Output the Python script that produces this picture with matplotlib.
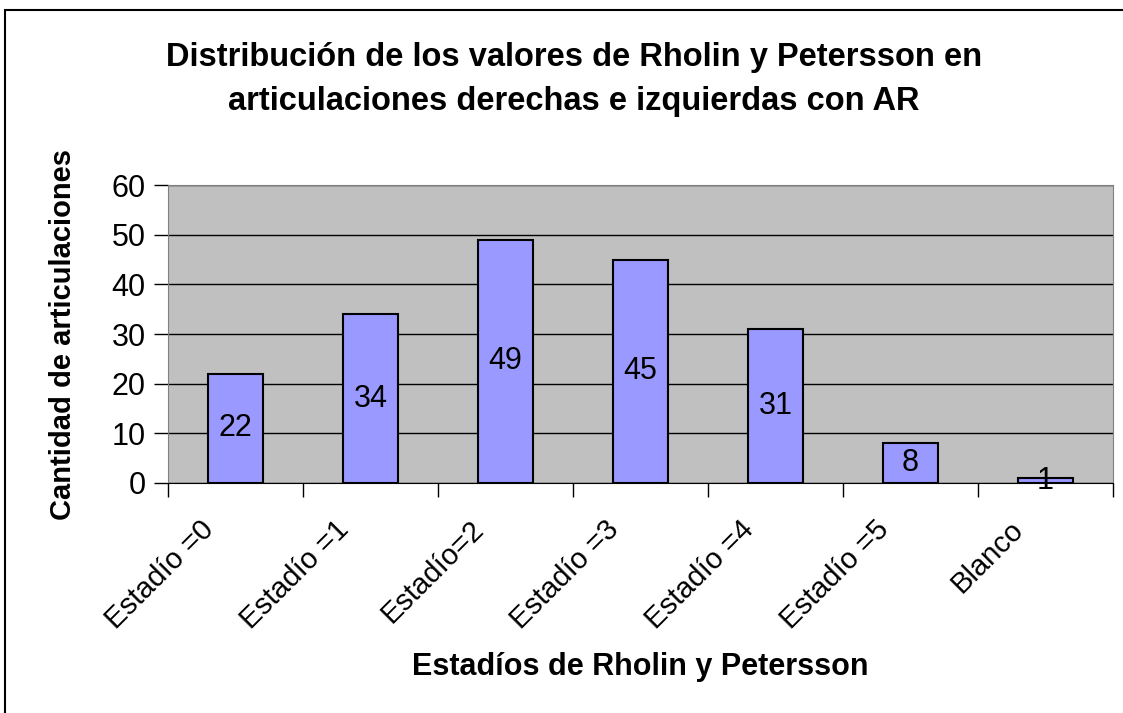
import numpy as np
import matplotlib.pyplot as plt
import matplotlib.transforms as mtransforms
from matplotlib.patches import Rectangle

plt.rcParams['font.family'] = ['Liberation Sans', 'DejaVu Sans']

categorias = ['Estadío =0', 'Estadío =1', 'Estadío=2', 'Estadío =3',
              'Estadío =4', 'Estadío =5', 'Blanco']
valores = [22, 34, 49, 45, 31, 8, 1]
y_ticks = [0, 10, 20, 30, 40, 50, 60]

fig = plt.figure(figsize=(11.23, 7.13), dpi=100)
ax = fig.add_axes([0.1496, 0.3226, 0.8414, 0.4179])

# marco exterior del grafico
fig.patches.append(Rectangle((5/1123, -0.05), 1.2, 1.05 - 10/713,
                             transform=fig.transFigure, fill=False,
                             edgecolor='black', linewidth=1.5))

x = np.arange(len(categorias))
ax.set_facecolor('#C0C0C0')
ax.bar(x, valores, width=0.41, color='#9999FF', edgecolor='black',
       linewidth=1.5, zorder=3)
for xi, v in zip(x, valores):
    ax.text(xi, v/2, str(v), ha='center', va='center', fontsize=22, zorder=4)

ax.set_xlim(-0.5, len(categorias) - 0.5)
ax.set_ylim(0, 60)
ax.set_yticks(y_ticks)
ax.yaxis.grid(True, color='black', linewidth=1.0, zorder=0)
ax.set_axisbelow(True)
ax.tick_params(axis='y', labelsize=22, length=10, width=1, color='black', pad=6)

# ticks del eje x en los limites de categoria
ax.set_xticks(np.arange(len(categorias) + 1) - 0.5)
ax.set_xticklabels([])
ax.set_xticks(x, minor=True)
ax.set_xticklabels(categorias, minor=True, rotation=45, ha='right',
                   rotation_mode='anchor', fontsize=21)
ax.tick_params(axis='x', which='major', length=10, width=1, color='black')
ax.tick_params(axis='x', which='minor', length=0, pad=23)
offset = mtransforms.ScaledTranslation(-36/100, 0, fig.dpi_scale_trans)
for lbl in ax.get_xticklabels(minor=True):
    lbl.set_transform(lbl.get_transform() + offset)

for s in ['top', 'right', 'left']:
    ax.spines[s].set_color('#808080')
ax.spines['bottom'].set_color('black')

ax.set_ylabel('Cantidad de articulaciones', fontsize=21, fontweight='bold',
              labelpad=25)
ax.set_xlabel('Estadíos de Rholin y Petersson', fontsize=22, fontweight='bold',
              labelpad=13)
fig.text(0.511, 0.888, 'Distribución de los valores de Rholin y Petersson en\n'
         'articulaciones derechas e izquierdas con AR', ha='center', va='center',
         fontsize=23.5, fontweight='bold', linespacing=1.55)

fig.savefig('out.png', dpi=100)
